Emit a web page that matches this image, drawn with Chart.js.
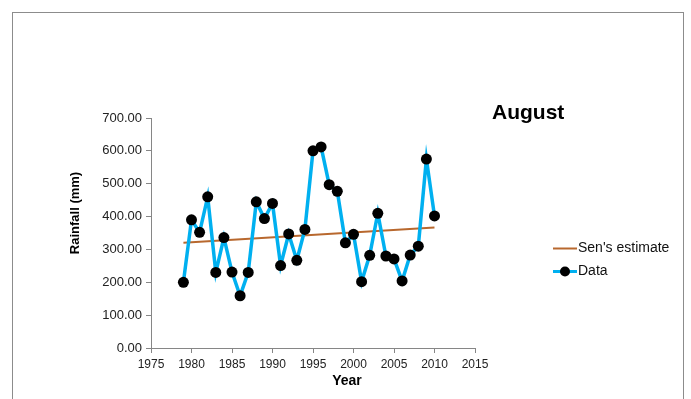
<!DOCTYPE html>
<html>
<head>
<meta charset="utf-8">
<script src="https://cdn.jsdelivr.net/npm/chart.js@4.4.1/dist/chart.umd.min.js"></script>
<style>
  html, body { margin: 0; padding: 0; background: #fff; }
  #wrap { width: 691px; height: 399px; }
</style>
</head>
<body>
<div id="wrap"><canvas id="chart" width="691" height="399"></canvas></div>
<script>
// August rainfall series
const years = [1979, 1980, 1981, 1982, 1983, 1984, 1985, 1986, 1987, 1988, 1989,
               1990, 1991, 1992, 1993, 1994, 1995, 1996, 1997, 1998, 1999, 2000,
               2001, 2002, 2003, 2004, 2005, 2006, 2007, 2008, 2009, 2010];
const rainfall = [200, 390, 352, 460, 230, 336, 231, 159, 230, 445, 394,
                  440, 251, 347, 267, 361, 600, 612, 497, 477, 320, 346,
                  202, 282, 410, 280, 271, 204, 283, 310, 575, 402];

// Sen's slope trend line end points
const senYears = [1979, 2010];
const senValues = [320, 367];

const xMin = 1975, xMax = 2015, xStep = 5;
const yMin = 0, yMax = 700, yStep = 100;

const FONT = "'Liberation Sans', Arial, sans-serif";
const AXIS_GREY = "#868686";
const BLUE = "#00B0F0";
const BROWN = "#B8682E";

const toPoints = (xs, ys) => xs.map((x, i) => ({ x: x, y: ys[i] }));

const decorations = {
    id: "decorations",
    beforeDraw(chart) {
        const ctx = chart.ctx;
        ctx.save();
        ctx.fillStyle = "#fff";
        ctx.fillRect(0, 0, chart.width, chart.height);
        ctx.strokeStyle = "#8c8c8c";
        ctx.lineWidth = 1;
        ctx.strokeRect(12.5, 12.5, 671, 400);
        ctx.restore();
    },
    afterDraw(chart) {
        const ctx = chart.ctx;
        ctx.save();
        ctx.fillStyle = "#000";

        // title
        ctx.font = "bold 21px " + FONT;
        ctx.textBaseline = "alphabetic";
        ctx.textAlign = "left";
        ctx.fillText("August", 492, 119);

        // axis titles
        ctx.font = "bold 14px " + FONT;
        ctx.textAlign = "center";
        ctx.textBaseline = "middle";
        ctx.fillText("Year", 347, 381);

        ctx.save();
        ctx.translate(75, 213);
        ctx.rotate(-Math.PI / 2);
        ctx.font = "bold 13px " + FONT;
        ctx.fillText("Rainfall (mm)", 0, 0);
        ctx.restore();

        // legend
        ctx.strokeStyle = BROWN;
        ctx.lineWidth = 2;
        ctx.beginPath();
        ctx.moveTo(553, 248.5);
        ctx.lineTo(577, 248.5);
        ctx.stroke();

        ctx.strokeStyle = BLUE;
        ctx.lineWidth = 3;
        ctx.beginPath();
        ctx.moveTo(553, 271.5);
        ctx.lineTo(577, 271.5);
        ctx.stroke();
        ctx.beginPath();
        ctx.arc(565, 271.5, 5, 0, Math.PI * 2);
        ctx.fill();

        ctx.font = "14px " + FONT;
        ctx.textAlign = "left";
        ctx.fillStyle = "#111";
        ctx.fillText("Sen's estimate", 578, 248);
        ctx.fillText("Data", 578, 271);
        ctx.restore();
    }
};

new Chart(document.getElementById("chart").getContext("2d"), {
    type: "line",
    data: {
        datasets: [
            {
                label: "Data",
                data: toPoints(years, rainfall),
                borderColor: BLUE,
                borderWidth: 3.5,
                pointRadius: 5.5,
                pointBackgroundColor: "#000",
                pointBorderColor: "#000",
                pointBorderWidth: 0,
                tension: 0,
            },
            {
                label: "Sen's estimate",
                data: toPoints(senYears, senValues),
                borderColor: BROWN,
                borderWidth: 2,
                pointRadius: 0,
                tension: 0,
            },
        ],
    },
    options: {
        responsive: false,
        animation: false,
        devicePixelRatio: 1,
        layout: { padding: { left: 0, top: 118, right: 216, bottom: 0 } },
        plugins: {
            legend: { display: false },
            tooltip: { enabled: false },
        },
        scales: {
            x: {
                type: "linear",
                min: xMin,
                max: xMax,
                afterFit(scale) { scale.height = 51; },
                ticks: {
                    stepSize: xStep,
                    padding: 4,
                    color: "#222",
                    font: { family: FONT, size: 12 },
                    callback: (v) => String(v),
                },
                grid: {
                    drawOnChartArea: false,
                    drawTicks: true,
                    tickLength: 5,
                    color: AXIS_GREY,
                },
                border: { color: AXIS_GREY },
            },
            y: {
                min: yMin,
                max: yMax,
                afterFit(scale) { scale.width = 151; },
                ticks: {
                    stepSize: yStep,
                    padding: 4,
                    color: "#222",
                    font: { family: FONT, size: 13 },
                    callback: (v) => v.toFixed(2),
                },
                grid: {
                    drawOnChartArea: false,
                    drawTicks: true,
                    tickLength: 5,
                    color: AXIS_GREY,
                },
                border: { color: AXIS_GREY },
            },
        },
    },
    plugins: [decorations],
});
</script>
</body>
</html>
